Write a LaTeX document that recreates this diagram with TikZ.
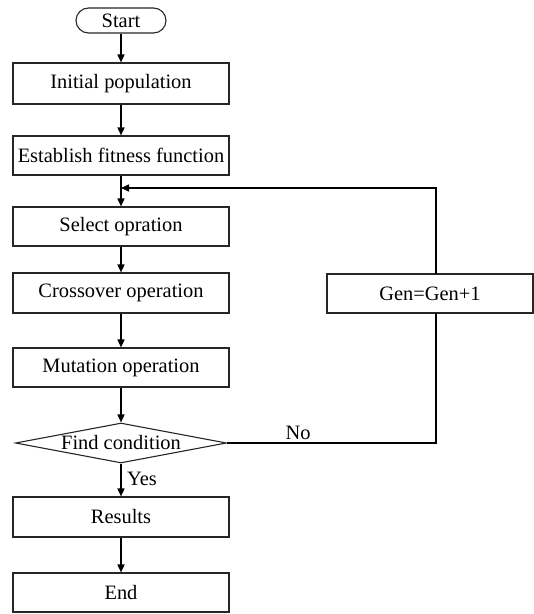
\documentclass[tikz,border=0pt]{standalone}
\usepackage{fontspec}
\setmainfont{Liberation Serif}
\usetikzlibrary{shapes.geometric,arrows.meta}
\begin{document}
\begin{tikzpicture}[x=1bp,y=-1bp,
  every node/.style={font=\fontsize{20.5}{23}\selectfont},
  procbox/.style={draw=black!85, line width=1.1bp, minimum width=216bp, minimum height=40bp, inner sep=0pt},
  termbox/.style={draw=black!85, line width=1.1bp, minimum width=90bp, minimum height=25bp, inner sep=0pt, rounded corners=12.5bp},
  decbox/.style={draw=black!85, line width=1.1bp, diamond, aspect=5.3, minimum width=211bp, minimum height=40bp, inner sep=0pt},
  flow/.style={line width=1.6bp, -{Triangle[length=8bp,width=7bp]}},
  plain/.style={line width=1.3bp}]
\useasboundingbox (0,0) rectangle (534,614);
\node[termbox] (start) at (121,20.5) {Start};
\node[procbox, minimum height=41bp] (init) at (121,83.5) {Initial population};
\node[procbox, minimum height=39bp] (estab) at (121,155.5) {Establish fitness function};
\node[procbox, minimum height=39bp] (select) at (121,226.5) {Select opration};
\node[procbox] (cross) at (121,293) {Crossover operation};
\node[procbox, minimum height=39bp] (mut) at (121,367.5) {Mutation operation};
\node[decbox] (dia) at (121,443) {Find condition};
\node[procbox] (res) at (121,517) {Results};
\node[procbox, minimum height=39bp] (end) at (121,592.5) {End};
\node[procbox, minimum width=206bp, minimum height=39bp] (gen) at (430,293.5) {Gen=Gen+1};
\coordinate (join) at (121,188);
\coordinate (gs) at (436,313);
\coordinate (gn) at (436,274);
\draw[flow] (start) -- (init);
\draw[flow] (init) -- (estab);
\draw[flow] (estab) -- (select);
\draw[flow] (select) -- (cross);
\draw[flow] (cross) -- (mut);
\draw[flow] (mut.south) -- (dia.north);
\draw[flow] (dia.south) -- node[right, xshift=2bp, yshift=1bp] {Yes} (res.north);
\draw[flow] (res) -- (end);
\draw[plain] (dia.east) -| node[pos=0.17, above, yshift=-1bp] {No} (gs);
\draw[flow] (gn) |- (join);
\end{tikzpicture}
\end{document}
